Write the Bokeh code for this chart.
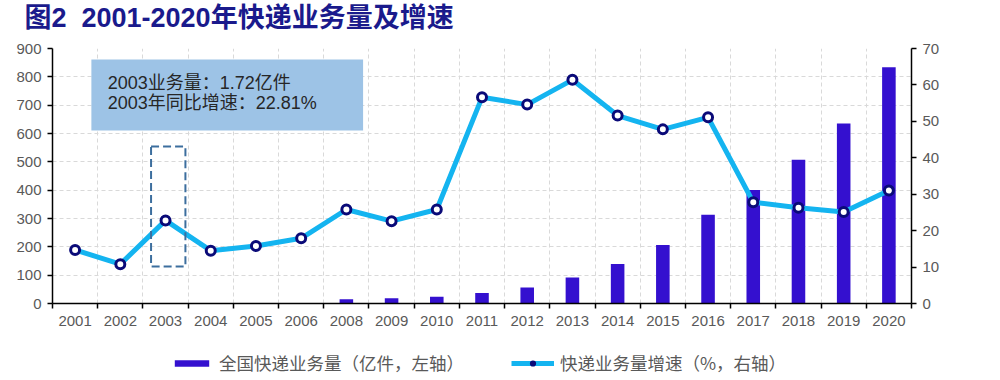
import math
from bokeh.plotting import figure
from bokeh.layouts import column
from bokeh.models import (Range1d, LinearAxis, FixedTicker, Legend, LegendItem,
                          BoxAnnotation, Label, ColumnDataSource, Grid)
from bokeh.embed import file_html
from bokeh.resources import INLINE

# ---- data ----
years = ["2001", "2002", "2003", "2004", "2005", "2006", "2008", "2009", "2010",
         "2011", "2012", "2013", "2014", "2015", "2016", "2017", "2018", "2019", "2020"]
volume = [math.nan, math.nan, math.nan, math.nan, math.nan, math.nan,
          15.1, 18.6, 23.4, 36.7, 56.9, 91.9, 139.6, 206.7, 312.8, 400.6, 507.1, 635.2, 833.6]
growth = [14.7, 10.8, 22.81, 14.5, 15.8, 17.9, 25.8, 22.6, 25.8, 56.6, 54.6, 61.4,
          51.6, 47.8, 51.1, 27.8, 26.3, 25.1, 31.0]
left_ticks = list(range(0, 901, 100))
right_ticks = list(range(0, 71, 10))
title_text = "图2\u00a0\u00a02001-2020年快递业务量及增速"
note1 = "2003业务量：1.72亿件"
note2 = "2003年同比增速：22.81%"
legend_bar = "全国快递业务量（亿件，左轴）"
legend_line = "快递业务量增速（%，右轴）"

xs = [i + 0.5 for i in range(len(years))]
src = ColumnDataSource(dict(x=xs, vol=volume, g=growth))

FONT = "Liberation Sans, Noto Sans CJK SC"
CJK = "Noto Sans CJK SC"
LBL = "#595959"
BAR = "#3410CF"
LINE = "#14B4F0"
RING = "#0A0A78"

W = 984
TH = 38

# title strip: the title sits in the strip's own title panel
tf = figure(width=W, height=TH, output_backend="svg", toolbar_location=None,
            title=title_text, x_range=Range1d(0, 1), y_range=Range1d(0, 1),
            min_border=0, x_axis_type=None, y_axis_type=None)
tf.outline_line_color = None
tf.xgrid.visible = False
tf.ygrid.visible = False
tf.title.text_font = FONT
tf.title.text_font_size = "27px"
tf.title.text_font_style = "bold"
tf.title.text_color = "#1A1A8C"
tf.title.align = "left"
tf.title.offset = -28
tf.title.standoff = 0

p = figure(width=W, height=335 - TH, output_backend="svg", toolbar_location=None, title=None,
           x_range=Range1d(0, len(years)), y_range=Range1d(0, 900),
           min_border_left=52, min_border_right=W - 911, min_border_top=48 - TH,
           min_border_bottom=32, x_axis_type=None, y_axis_type=None)
p.outline_line_color = None
p.background_fill_color = "white"
p.extra_y_ranges = {"r": Range1d(0, 70)}

# axes
xaxis = LinearAxis(ticker=FixedTicker(ticks=xs, minor_ticks=list(range(len(years) + 1))),
                   major_label_overrides={x: y for x, y in zip(xs, years)})
xaxis.major_tick_line_color = None
xaxis.minor_tick_in = 0
xaxis.minor_tick_out = 5
xaxis.minor_tick_line_color = "black"
xaxis.minor_tick_line_width = 1.5
xaxis.axis_line_color = "black"
xaxis.axis_line_width = 1.5
xaxis.major_label_text_font = FONT
xaxis.major_label_text_font_size = "15px"
xaxis.major_label_text_color = LBL
xaxis.major_label_standoff = 6
p.add_layout(xaxis, "below")

yaxis = LinearAxis(ticker=FixedTicker(ticks=left_ticks))
p.add_layout(yaxis, "left")
yaxis2 = LinearAxis(y_range_name="r", ticker=FixedTicker(ticks=right_ticks))
p.add_layout(yaxis2, "right")
for ax in (yaxis, yaxis2):
    ax.axis_line_color = "black"
    ax.axis_line_width = 1.5
    ax.major_tick_line_color = "black"
    ax.major_tick_line_width = 1.5
    ax.major_tick_in = 0
    ax.major_tick_out = 5
    ax.minor_tick_line_color = None
    ax.major_label_text_font = FONT
    ax.major_label_text_font_size = "15px"
    ax.major_label_text_color = LBL
    ax.major_label_standoff = 6

# grids
xgrid = Grid(dimension=0, ticker=FixedTicker(ticks=list(range(1, len(years)))),
             grid_line_color="#D9D9D9", grid_line_dash="4 3", grid_line_width=1)
ygrid = Grid(dimension=1, ticker=FixedTicker(ticks=left_ticks[1:]),
             grid_line_color="#D9D9D9", grid_line_dash="4 3", grid_line_width=1)
p.add_layout(xgrid)
p.add_layout(ygrid)

# glyphs
p.vbar(x="x", top="vol", width=0.3, source=src, fill_color=BAR, line_color=None)
p.line(x="x", y="g", source=src, y_range_name="r", line_width=5, line_color=LINE)
p.scatter(x="x", y="g", source=src, y_range_name="r", size=9,
          fill_color="white", line_color=RING, line_width=3)

# annotations
box = BoxAnnotation(left=0.86, right=6.87, bottom=611, top=861,
                    fill_color="#9DC3E6", fill_alpha=1, line_color=None, level="underlay")
p.add_layout(box)
dash = BoxAnnotation(left=2.18, right=2.94, bottom=131, top=554, fill_alpha=0,
                     line_color="#3C6E9E", line_alpha=1, line_width=2, line_dash="8 4")
p.add_layout(dash)
for t, yv in ((note1, 778), (note2, 706)):
    p.add_layout(Label(x=1.22, y=yv, text=t, text_font=FONT, text_font_size="18px",
                       text_color="#262626", text_baseline="middle"))

# legend strip (proxy renderers hold one point outside the visible range)
lf = figure(width=W, height=40, output_backend="svg", toolbar_location=None, title=None,
            x_range=Range1d(0, 1), y_range=Range1d(0, 1),
            min_border=0, x_axis_type=None, y_axis_type=None)
lf.outline_line_color = None
lf.xgrid.visible = False
lf.ygrid.visible = False
lb = lf.vbar(x=[-5], top=[-5], width=0.3, fill_color=BAR, line_color=None)
ll = lf.line(x=[-5, -4], y=[-5, -5], line_width=5, line_color=LINE)
ls = lf.scatter(x=[-5], y=[-5], size=9, fill_color="white", line_color=RING, line_width=3)
legend = Legend(items=[LegendItem(label=legend_bar, renderers=[lb]),
                       LegendItem(label=legend_line, renderers=[ll, ls])],
                orientation="horizontal", location=(118, 0),
                glyph_width=43, glyph_height=8, label_standoff=6, spacing=47,
                label_text_font=CJK, label_text_font_size="17.5px", label_text_color=LBL,
                border_line_color=None, background_fill_alpha=0,
                padding=0, margin=0)
lf.add_layout(legend)

open("out.html", "w").write(file_html(column(tf, p, lf, spacing=0), INLINE))
